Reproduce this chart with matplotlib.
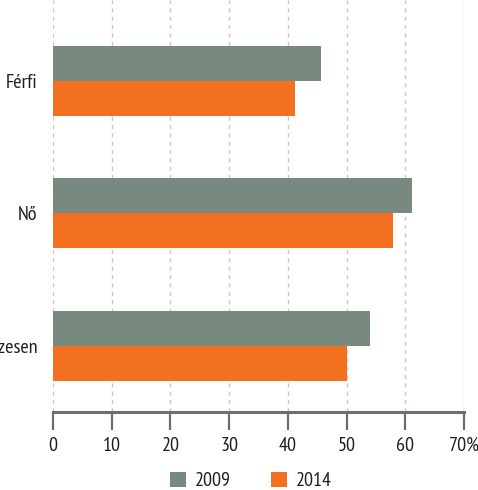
import matplotlib
matplotlib.use("Agg")
import matplotlib.pyplot as plt
from matplotlib.patches import Patch
import numpy as np

categories = ["Összesen", "Nő", "Férfi"]
years = ["2009", "2014"]
values_2009 = [54.0, 61.2, 45.7]
values_2014 = [50.0, 57.9, 41.2]
x_ticks = [0, 10, 20, 30, 40, 50, 60, 70]
x_tick_labels = ["0", "10", "20", "30", "40", "50", "60", "70%"]

col_2009 = "#788a80"
col_2014 = "#f37021"
axis_col = "#6d6e71"
text_col = "#231f20"
fs = 14.5

plt.rcParams["font.family"] = ["PT Sans Narrow", "DejaVu Sans"]

fig = plt.figure(figsize=(4.78, 4.90), dpi=100)
ax = fig.add_axes([53 / 478, 78 / 490, 411 / 478, 412 / 490])

y = np.arange(len(categories))
h = 0.264
ax.barh(y + h / 2, values_2009, height=h, color=col_2009, zorder=3)
ax.barh(y - h / 2, values_2014, height=h, color=col_2014, zorder=3)

ax.set_xlim(0, 70)
ax.set_ylim(-0.5, 2.61)
ax.set_xticks(x_ticks)
ax.set_xticklabels(x_tick_labels, fontsize=fs, color=text_col)
ax.set_yticks(y)
ax.set_yticklabels(categories, fontsize=fs, color=text_col)
ax.tick_params(axis="y", length=0, pad=11)
ax.tick_params(axis="x", length=13, width=1.6, color=axis_col, pad=5)

for s in ["top", "right", "left"]:
    ax.spines[s].set_visible(False)
ax.spines["bottom"].set_color(axis_col)
ax.spines["bottom"].set_linewidth(2.2)

for xv in x_ticks:
    ax.axvline(xv, color="#c8c8c8", linewidth=1.0, linestyle=(0, (3, 3)), zorder=1)

handles = [Patch(facecolor=col_2009, edgecolor="none"),
           Patch(facecolor=col_2014, edgecolor="none")]
fig.legend(handles, years, loc="center", bbox_to_anchor=(251 / 478, 1 - 481 / 490),
           ncol=2, frameon=False, fontsize=fs, handlelength=0.8, handleheight=0.8,
           columnspacing=2.0, handletextpad=0.45, labelcolor=text_col,
           borderpad=0, borderaxespad=0)

fig.savefig("out.png", dpi=100)
